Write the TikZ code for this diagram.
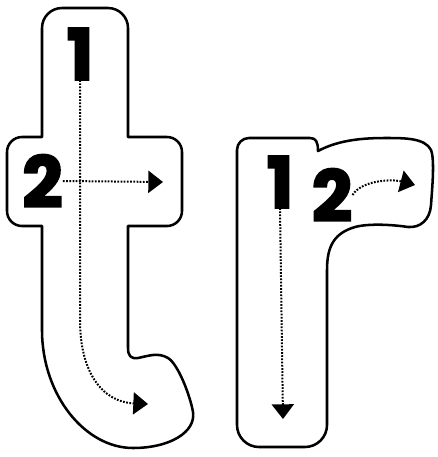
\documentclass[tikz,border=0pt]{standalone}
\usepackage{fontspec}
\newfontfamily\digitfont{Poppins}[BoldFeatures={FakeBold=3}]
\usetikzlibrary{arrows.meta}
\tikzset{
  outline/.style={line width=1.9pt, line join=round},
  guide/.style={line width=1.5pt, dash pattern=on 1.3pt off 1.1pt, -{Triangle[length=11pt,width=16.5pt]}},
  numeral/.style={inner sep=0pt, font=\digitfont\bfseries\fontsize{53}{53}\selectfont}
}
\begin{document}
\begin{tikzpicture}[x=0.75pt,y=-0.75pt]
\useasboundingbox (0,0) rectangle (438,457);
% letter t outline
\draw[outline] (42,137) -- (42,28) arc (180:270:20) -- (108,8) arc (270:360:20)
  -- (128,137) -- (167,137) arc (270:360:15) -- (182,211) arc (0:90:15)
  -- (128,226) -- (128,348)
  .. controls (128,356) and (131,359) .. (138,358)
  .. controls (148,356) and (158,352) .. (168,358)
  .. controls (178,364) and (190,395) .. (193,412)
  .. controls (196,432) and (170,448) .. (133,448)
  .. controls (85,448) and (42,395) .. (42,330)
  -- (42,226) -- (22,226) arc (90:180:15) -- (7,152) arc (180:270:15) -- cycle;
% letter r outline
\draw[outline] (237,150) arc (180:270:12) -- (310,138)
  .. controls (316,138) and (318,142) .. (318,151)
  .. controls (335,142) and (355,138) .. (385,138)
  .. controls (405,138) and (425,138) .. (431,150)
  .. controls (435,160) and (432,190) .. (431,205)
  .. controls (430,220) and (420,228) .. (408,227)
  .. controls (395,225) and (370,223) .. (355,227)
  .. controls (335,233) and (327,245) .. (327,270)
  -- (327,425) arc (0:90:22) -- (259,447) arc (90:180:22) -- cycle;
% numerals
\node[numeral] (t1) at (80,54) {1};
\node[numeral] (t2) at (42.5,181) {2};
\node[numeral] (r1) at (280,182) {1};
\node[numeral] (r2) at (332,195) {2};
% free ends
\coordinate (t1end) at (148,404);
\coordinate (t2end) at (163,182);
\coordinate (r1end) at (283,419);
\coordinate (r2end) at (415,185);
% strokes
\draw[guide] (t1.south) -- (80,320) .. controls (80,372) and (102,402) .. (t1end);
\draw[guide] (t2.east) -- (t2end);
\draw[guide] (r1.south) -- (r1end);
\draw[guide] (r2.east) .. controls (362,180) and (392,179) .. (r2end);
\end{tikzpicture}
\end{document}
